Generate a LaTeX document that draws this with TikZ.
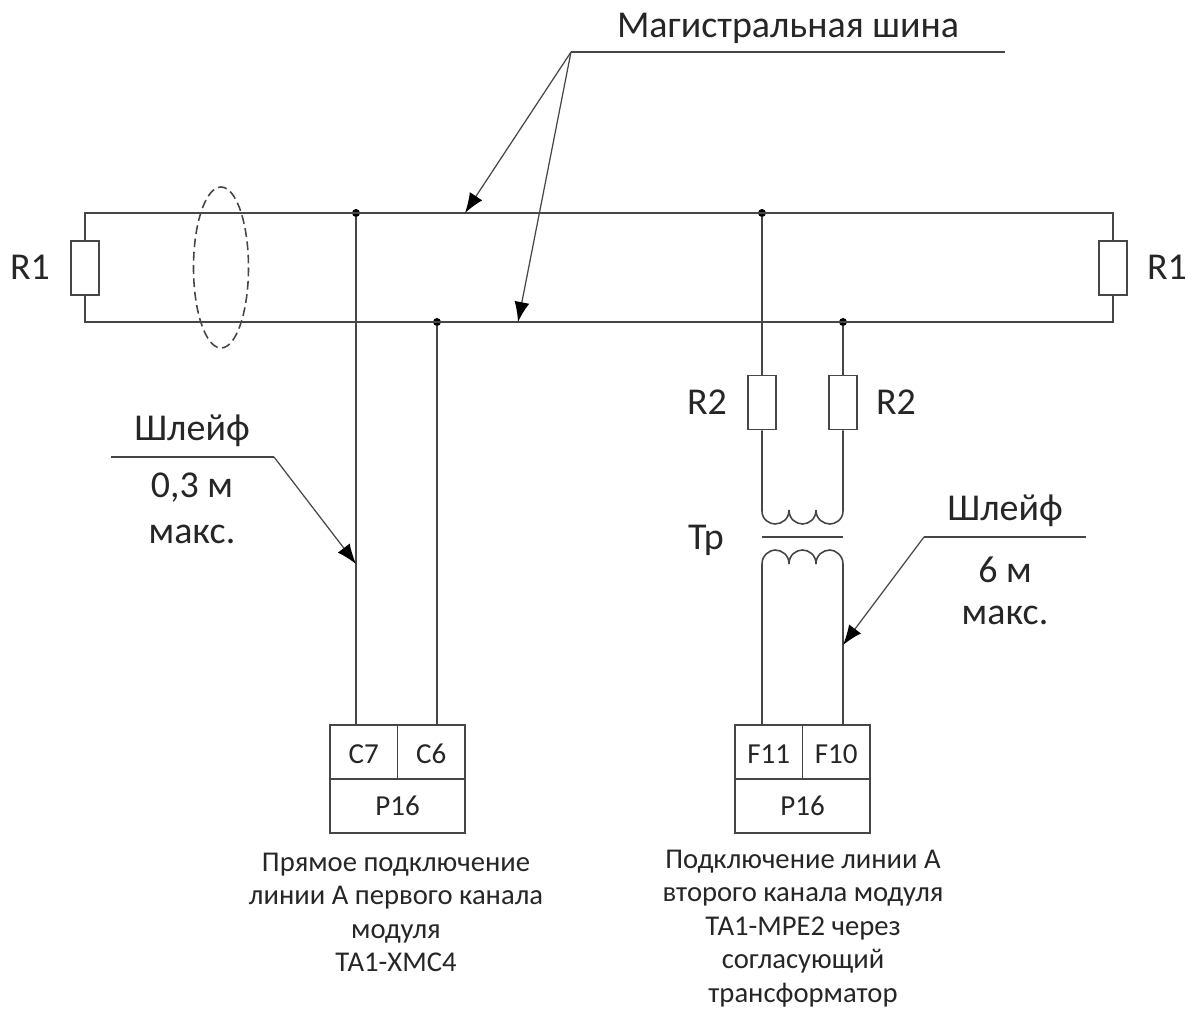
\documentclass[tikz,border=0pt]{standalone}
\usepackage{fontspec}
\setmainfont{Carlito}
\usetikzlibrary{arrows.meta}
\definecolor{mywire}{RGB}{70,70,70}
\tikzset{
    res/.style={draw=mywire, fill=white, line width=0.9pt, minimum width=0.56cm, minimum height=1.08cm, inner sep=0pt},
    cell/.style={draw=mywire, line width=0.9pt, inner sep=0pt, text=black!85, minimum height=1.08cm, font=\fontsize{16.5}{18}\selectfont},
    topcell/.style={cell, minimum width=1.35cm, text height=0.47cm, text depth=0pt},
    joint/.style={circle, fill=black, inner sep=0pt, minimum size=0.16cm},
    big/.style={inner sep=0pt, text=black!85, font=\fontsize{21.6}{24}\selectfont},
    caption/.style={inner sep=0pt, align=center, text=black!85, font=\fontsize{16.3}{19}\selectfont},
    wire/.style={draw=mywire, line width=0.9pt},
    leader/.style={draw=mywire, line width=0.7pt},
    pointer/.style={leader, -{Latex[length=0.4cm, width=0.3cm, black]}},
}

\begin{document}
\begin{tikzpicture}[x=0.02cm, y=-0.02cm]
    \useasboundingbox (0, 0) rectangle (1188, 1010);

    % bus
    \coordinate (tl) at (85, 213);
    \coordinate (bl) at (85, 322);
    \coordinate (tr) at (1113, 213);
    \coordinate (br) at (1113, 322);
    \node[joint] (ja) at (356, 213) {};
    \node[joint] (jb) at (437, 322) {};
    \node[joint] (jc) at (762, 213) {};
    \node[joint] (jd) at (843, 322) {};
    \draw[wire] (tl) -- (tr) -- (br) -- (bl) -- cycle;
    \node[res] (r1a) at (85, 268) {};
    \node[res] (r1b) at (1113, 268) {};
    \node[big] at (30, 267) {R1};
    \node[big] at (1167, 267) {R1};
    \draw[wire, dashed, dash pattern=on 5pt off 2.6pt] (221, 267.5) ellipse (27.5 and 80.5);

    % left module
    \node[topcell] (c7) at (363.75, 752) {C7};
    \node[topcell] (c6) at (431.25, 752) {C6};
    \node[cell, minimum width=2.7cm] (pa) at (397.5, 806) {P16};
    \draw[wire] (ja) -- (ja |- c7.north);
    \draw[wire] (jb) -- (jb |- c6.north);
    \node[caption] at (396, 912.5) {Прямое подключение\\линии А первого канала\\модуля\\ТА1-ХМС4};

    % right module
    \node[res] (r2a) at (762, 402.5) {};
    \node[res] (r2b) at (843, 402.5) {};
    \node[big] at (707, 402) {R2};
    \node[big] at (896, 402) {R2};
    \node[big] at (706, 540) {Тр};
    \coordinate (ua) at (762, 511);
    \coordinate (ub) at (843, 511);
    \coordinate (la) at (762, 564);
    \coordinate (lb) at (843, 564);
    \coordinate (ma) at (762, 537);
    \coordinate (mb) at (843, 537);
    \draw[wire] (jc) -- (r2a.north);
    \draw[wire] (jd) -- (r2b.north);
    \draw[wire] (r2a.south) -- (ua)
        .. controls (762, 520) and (770, 524) .. (775, 524)
        .. controls (782, 524) and (789, 519) .. (789, 510)
        .. controls (789, 519) and (796, 524) .. (802.5, 524)
        .. controls (809, 524) and (816, 519) .. (816, 510)
        .. controls (816, 519) and (823, 524) .. (830, 524)
        .. controls (835, 524) and (843, 520) .. (ub)
        -- (r2b.south);
    \draw[wire] (ma) -- (mb);
    \node[topcell] (f11) at (768.75, 752) {F11};
    \node[topcell] (f10) at (836.25, 752) {F10};
    \node[cell, minimum width=2.7cm] (pb) at (802.5, 806) {P16};
    \draw[wire] (la |- f11.north) -- (la)
        .. controls (762, 555) and (770, 550) .. (775, 550)
        .. controls (782, 550) and (789, 555) .. (789, 564)
        .. controls (789, 555) and (796, 550) .. (802.5, 550)
        .. controls (809, 550) and (816, 555) .. (816, 564)
        .. controls (816, 555) and (823, 550) .. (830, 550)
        .. controls (835, 550) and (843, 555) .. (lb)
        -- (lb |- f10.north);
    \node[caption] at (803, 928.5) {Подключение линии А\\второго канала модуля\\ТА1-МРЕ2 через\\согласующий\\трансформатор};

    % leaders
    \node[big] at (788, 28) {Магистральная шина};
    \coordinate (ta) at (571, 52);
    \coordinate (tb) at (1005, 52);
    \coordinate (tc) at (465, 213);
    \coordinate (td) at (518, 322);
    \draw[leader] (ta) -- (tb);
    \draw[pointer] (ta) -- (tc);
    \draw[pointer] (ta) -- (td);

    \node[big] at (192, 431) {Шлейф};
    \node[big] at (192, 488) {0,3 м};
    \node[big] at (192, 534) {макс.};
    \coordinate (sa) at (111, 457);
    \coordinate (sb) at (274, 457);
    \coordinate (sc) at (356, 564);
    \draw[leader] (sa) -- (sb);
    \draw[pointer] (sb) -- (sc);

    \node[big] at (1005, 511) {Шлейф};
    \node[big] at (1005, 570) {6 м};
    \node[big] at (1005, 615) {макс.};
    \coordinate (na) at (1086, 537);
    \coordinate (nb) at (924, 537);
    \coordinate (nc) at (843, 645);
    \draw[leader] (na) -- (nb);
    \draw[pointer] (nb) -- (nc);
\end{tikzpicture}
\end{document}
